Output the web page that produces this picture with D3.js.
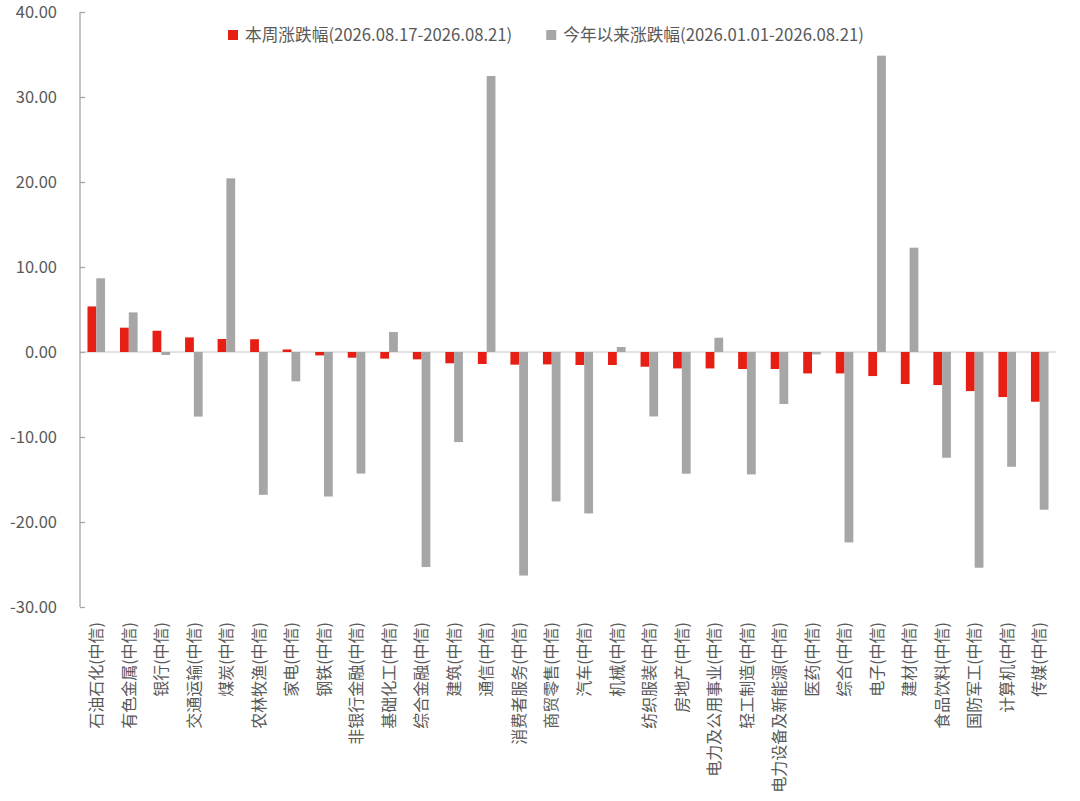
<!DOCTYPE html>
<html>
<head>
<meta charset="utf-8">
<script src="https://cdn.jsdelivr.net/npm/d3@7"></script>
<style>
  html, body { margin: 0; padding: 0; background: #fff; }
  svg { display: block; }
  text { font-family: "Noto Sans CJK SC", "Noto Sans", sans-serif; fill: #595959; }
</style>
</head>
<body>
<script>
const categories = ["石油石化(中信)","有色金属(中信)","银行(中信)","交通运输(中信)","煤炭(中信)","农林牧渔(中信)","家电(中信)","钢铁(中信)","非银行金融(中信)","基础化工(中信)","综合金融(中信)","建筑(中信)","通信(中信)","消费者服务(中信)","商贸零售(中信)","汽车(中信)","机械(中信)","纺织服装(中信)","房地产(中信)","电力及公用事业(中信)","轻工制造(中信)","电力设备及新能源(中信)","医药(中信)","综合(中信)","电子(中信)","建材(中信)","食品饮料(中信)","国防军工(中信)","计算机(中信)","传媒(中信)"];
const weekChange = [5.36,2.86,2.50,1.72,1.53,1.50,0.30,-0.40,-0.67,-0.78,-0.86,-1.33,-1.41,-1.49,-1.46,-1.53,-1.53,-1.73,-1.93,-1.93,-2.00,-2.00,-2.52,-2.52,-2.83,-3.77,-3.89,-4.60,-5.30,-5.85];
const ytdChange = [8.67,4.66,-0.35,-7.60,20.43,-16.80,-3.45,-17.00,-14.30,2.35,-25.30,-10.60,32.47,-26.30,-17.58,-18.99,0.59,-7.58,-14.32,1.68,-14.40,-6.12,-0.28,-22.40,34.86,12.27,-12.44,-25.38,-13.50,-18.55];
const seriesNames = ["本周涨跌幅(2026.08.17-2026.08.21)","今年以来涨跌幅(2026.01.01-2026.08.21)"];
const seriesColors = ["#E61E14","#A6A6A6"];
const yTicks = [40,30,20,10,0,-10,-20,-30];

const W = 1080, H = 801;
const svg = d3.select("body").append("svg").attr("width", W).attr("height", H);

const x0 = d3.scaleBand().domain(categories).range([80, 1056]).paddingInner(0.46).paddingOuter(0.23);
const x1 = d3.scaleBand().domain([0,1]).range([0, x0.bandwidth()]);
const y = d3.scaleLinear().domain([-30, 40]).range([607, 12]);

// zero line
svg.append("line")
  .attr("x1", 80).attr("x2", 1056)
  .attr("y1", y(0)).attr("y2", y(0))
  .attr("stroke", "#D9D9D9").attr("stroke-width", 1.5);

// bars
const series = [weekChange, ytdChange];
series.forEach((vals, si) => {
  svg.append("g").selectAll("rect").data(vals).join("rect")
    .attr("x", (d, i) => x0(categories[i]) + x1(si))
    .attr("width", x1.bandwidth())
    .attr("y", d => y(Math.max(0, d)))
    .attr("height", d => Math.abs(y(d) - y(0)))
    .attr("fill", seriesColors[si]);
});

// y axis
const yAxis = d3.axisRight(y).tickValues(yTicks).tickSize(5).tickFormat("");
const ag = svg.append("g").attr("transform", "translate(80,0)").call(yAxis);
ag.select(".domain").attr("stroke", "#A6A6A6").attr("stroke-width", 1.3).attr("d", "M0,12V607");
ag.selectAll(".tick line").attr("stroke", "#A6A6A6").attr("stroke-width", 1.3);

svg.append("g").selectAll("text").data(yTicks).join("text")
  .attr("x", 57).attr("y", d => y(d))
  .attr("dy", "0.35em")
  .attr("text-anchor", "end")
  .style("font-size", "16.5px")
  .text(d => d.toFixed(2));

// category labels
svg.append("g").selectAll("text").data(categories).join("text")
  .attr("transform", d => `translate(${x0(d) + x0.bandwidth()/2},622) rotate(-90)`)
  .attr("text-anchor", "end")
  .attr("dy", "0.36em")
  .style("font-size", "16px")
  .text(d => d);

// legend
const lg = svg.append("g");
let lx = 228;
seriesNames.forEach((name, i) => {
  lg.append("rect").attr("x", lx).attr("y", 30).attr("width", 10).attr("height", 10).attr("fill", seriesColors[i]);
  const t = lg.append("text").attr("x", lx + 17).attr("y", 35).attr("dy", "0.36em")
    .style("font-size", "16.7px").text(name);
  lx = lx + 17 + t.node().getComputedTextLength() + 34;
});
</script>
</body>
</html>
